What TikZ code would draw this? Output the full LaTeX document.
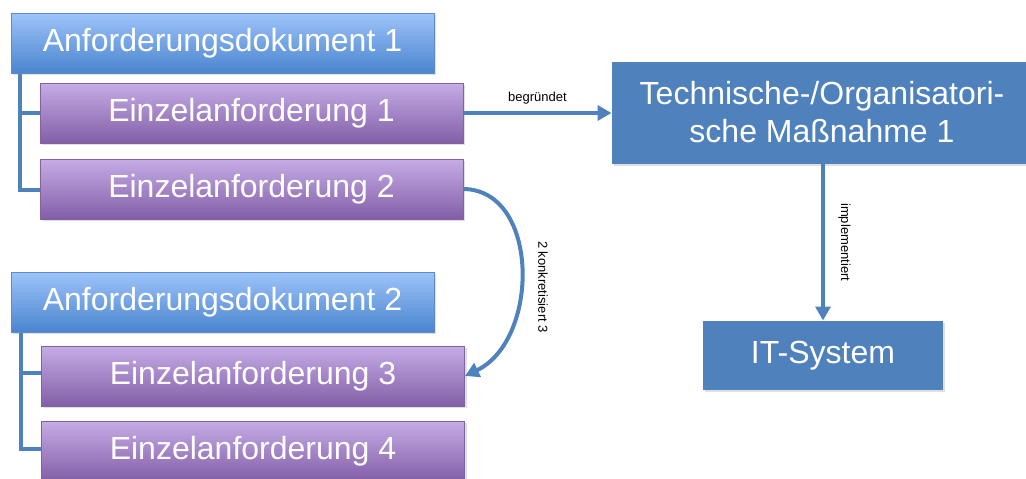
\documentclass[tikz,border=0pt]{standalone}
\usepackage{fontspec}
\setmainfont{Liberation Sans}
\usetikzlibrary{arrows.meta,shadows}
\definecolor{docTop}{HTML}{9DC3FA}
\definecolor{docBot}{HTML}{4A85CE}
\definecolor{docLine}{HTML}{5F8CC6}
\definecolor{purTop}{HTML}{C6ACE6}
\definecolor{purBot}{HTML}{825EA7}
\definecolor{purLine}{HTML}{8064A2}
\definecolor{office}{HTML}{4F81BD}
\tikzset{
  base/.style={draw, line width=1pt, text=white, font=\fontsize{32}{38}\selectfont,
    drop shadow={shadow xshift=2pt, shadow yshift=-2pt, opacity=0.25}},
  docbox/.style={base, draw=docLine, top color=docTop, bottom color=docBot,
    minimum width=423pt, minimum height=60pt, inner sep=0pt},
  reqbox/.style={base, draw=purLine, top color=purTop, bottom color=purBot,
    minimum width=423pt, minimum height=60pt, inner sep=0pt},
  solidbox/.style={base, draw=none, fill=office, align=center},
  tree/.style={draw=office, line width=4pt},
  conn/.style={draw=office, line width=4pt, -{Triangle[length=14pt,width=15pt]}},
  lbl/.style={font=\fontsize{13}{15}\selectfont, text=black}
}
\begin{document}
\begin{tikzpicture}[x=1pt,y=-1pt]
\useasboundingbox (0,0) rectangle (1026,479);
% tree lines (behind boxes)
\coordinate (t1a) at (20,73);
\coordinate (t1b) at (20,190);
\coordinate (t2a) at (21,332);
\coordinate (t2b) at (21,449);
\path[tree] (t1a) -- (t1b) -- (45,190);
\path[tree] (20,113) -- (45,113);
\path[tree] (t2a) -- (t2b) -- (45,449);
\path[tree] (21,373) -- (45,373);
% boxes
\node[docbox] (d1) at (222.5,43) {Anforderungsdokument 1};
\node[reqbox] (e1) at (251.5,113) {Einzelanforderung 1};
\node[reqbox] (e2) at (251.5,189) {Einzelanforderung 2};
\node[docbox] (d2) at (222.5,302) {Anforderungsdokument 2};
\node[reqbox] (e3) at (253,376) {Einzelanforderung 3};
\node[reqbox] (e4) at (253,451) {Einzelanforderung 4};
\node[solidbox, minimum width=420pt, minimum height=102pt, inner sep=0pt] (tm) at (822,112.5)
  {Technische-/Organisatori-\\sche Maßnahme 1};
\node[solidbox, minimum width=240pt, minimum height=69pt, inner sep=0pt] (it) at (823,355.5) {IT-System};
% connectors
\path[conn] (e1.east) -- node[lbl, above=3pt] {begründet} (tm.west |- e1.east);
\path[conn] (tm.south -| it.north) -- node[lbl, right=10pt, rotate=-90, anchor=south] {implementiert} (it.north);
\path[conn] (e2.east) .. controls (540,190) and (540,340) .. (e3.east);
\node[lbl, rotate=-90] (k) at (543,287) {2 konkretisiert 3};
\end{tikzpicture}
\end{document}
